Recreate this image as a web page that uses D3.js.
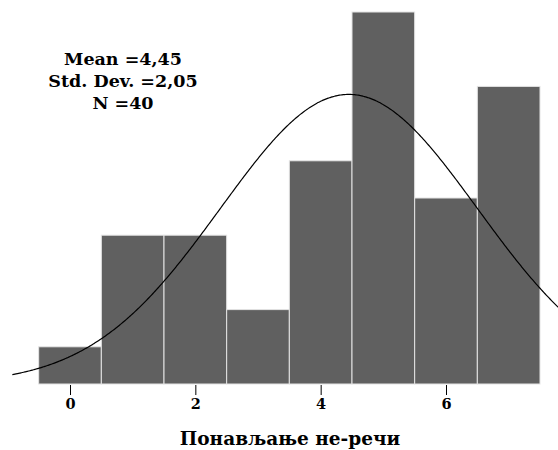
<!DOCTYPE html>
<html>
<head>
<meta charset="utf-8">
<script src="https://cdn.jsdelivr.net/npm/d3@7"></script>
<style>
  body { margin: 0; background: #fff; }
  svg { display: block; }
  .bar { fill: #606060; stroke: #e4e4e4; stroke-width: 1; }
  .curve { fill: none; stroke: #000; stroke-width: 1.2; }
  .tick line { stroke: #000; }
  .tick text { font-family: "DejaVu Serif", serif; font-weight: bold; font-size: 14.5px; fill: #000; }
  .stats, .axis--label { font-family: "DejaVu Serif", serif; font-weight: bold; fill: #000; }
</style>
</head>
<body>
<div class="graph"></div>
<script>
// histogram bins (value of each bar) and counts
var binValues = [0, 1, 2, 3, 4, 5, 6, 7];
var binCounts = [1, 4, 4, 2, 6, 10, 5, 8];
var tickValues = [0, 2, 4, 6];
var statLabels = ["Mean =4,45", "Std. Dev. =2,05", "N =40"];
var mean = 4.45, stdDev = 2.05, total = 40;
var xLabel = "Понављање не-речи";

var width = 558, height = 450;

var svg = d3.select(".graph").append("svg")
    .attr("width", width)
    .attr("height", height);

// value -> pixel
var xScale = d3.scaleLinear().domain([0, 6]).range([70, 446]);
var yScale = d3.scaleLinear().domain([0, 10]).range([384, 12]);

// Bars
svg.append("g").selectAll("rect")
    .data(binValues)
    .enter().append("rect")
    .attr("class", "bar")
    .attr("x", function(d) { return xScale(d - 0.5); })
    .attr("width", function(d) { return xScale(d + 0.5) - xScale(d - 0.5); })
    .attr("y", function(d, i) { return yScale(binCounts[i]); })
    .attr("height", function(d, i) { return yScale(0) - yScale(binCounts[i]); });

// Normal curve from the stated mean / sd / N (bin width 1)
var curveX = d3.range(-0.92, 7.85, 0.02);
var normal = function(x) {
  return total / (stdDev * Math.sqrt(2 * Math.PI)) * Math.exp(-0.5 * Math.pow((x - mean) / stdDev, 2));
};
var line = d3.line()
    .x(function(d) { return xScale(d); })
    .y(function(d) { return yScale(normal(d)); })
    .curve(d3.curveBasis);
svg.append("path")
    .datum(curveX)
    .attr("class", "curve")
    .attr("d", line);

// X axis (ticks only, no domain line)
var xAxis = d3.axisBottom(xScale)
    .tickValues(tickValues)
    .tickSize(10)
    .tickPadding(4)
    .tickFormat(d3.format("d"));
var xAxisEl = svg.append("g")
    .attr("class", "x axis")
    .attr("transform", "translate(0,385)")
    .call(xAxis);
xAxisEl.select(".domain").remove();
xAxisEl.selectAll(".tick text").attr("font-family", null).attr("font-size", null);

svg.append("text")
    .attr("class", "axis--label")
    .attr("x", 290)
    .attr("y", 445)
    .attr("text-anchor", "middle")
    .style("font-size", "18.5px")
    .text(xLabel);

// Stats box
svg.append("g").selectAll("text")
    .data(statLabels)
    .enter().append("text")
    .attr("class", "stats")
    .attr("x", 123)
    .attr("y", function(d, i) { return 65 + i * 22; })
    .attr("text-anchor", "middle")
    .style("font-size", "17.5px")
    .text(function(d) { return d; });
</script>
</body>
</html>
